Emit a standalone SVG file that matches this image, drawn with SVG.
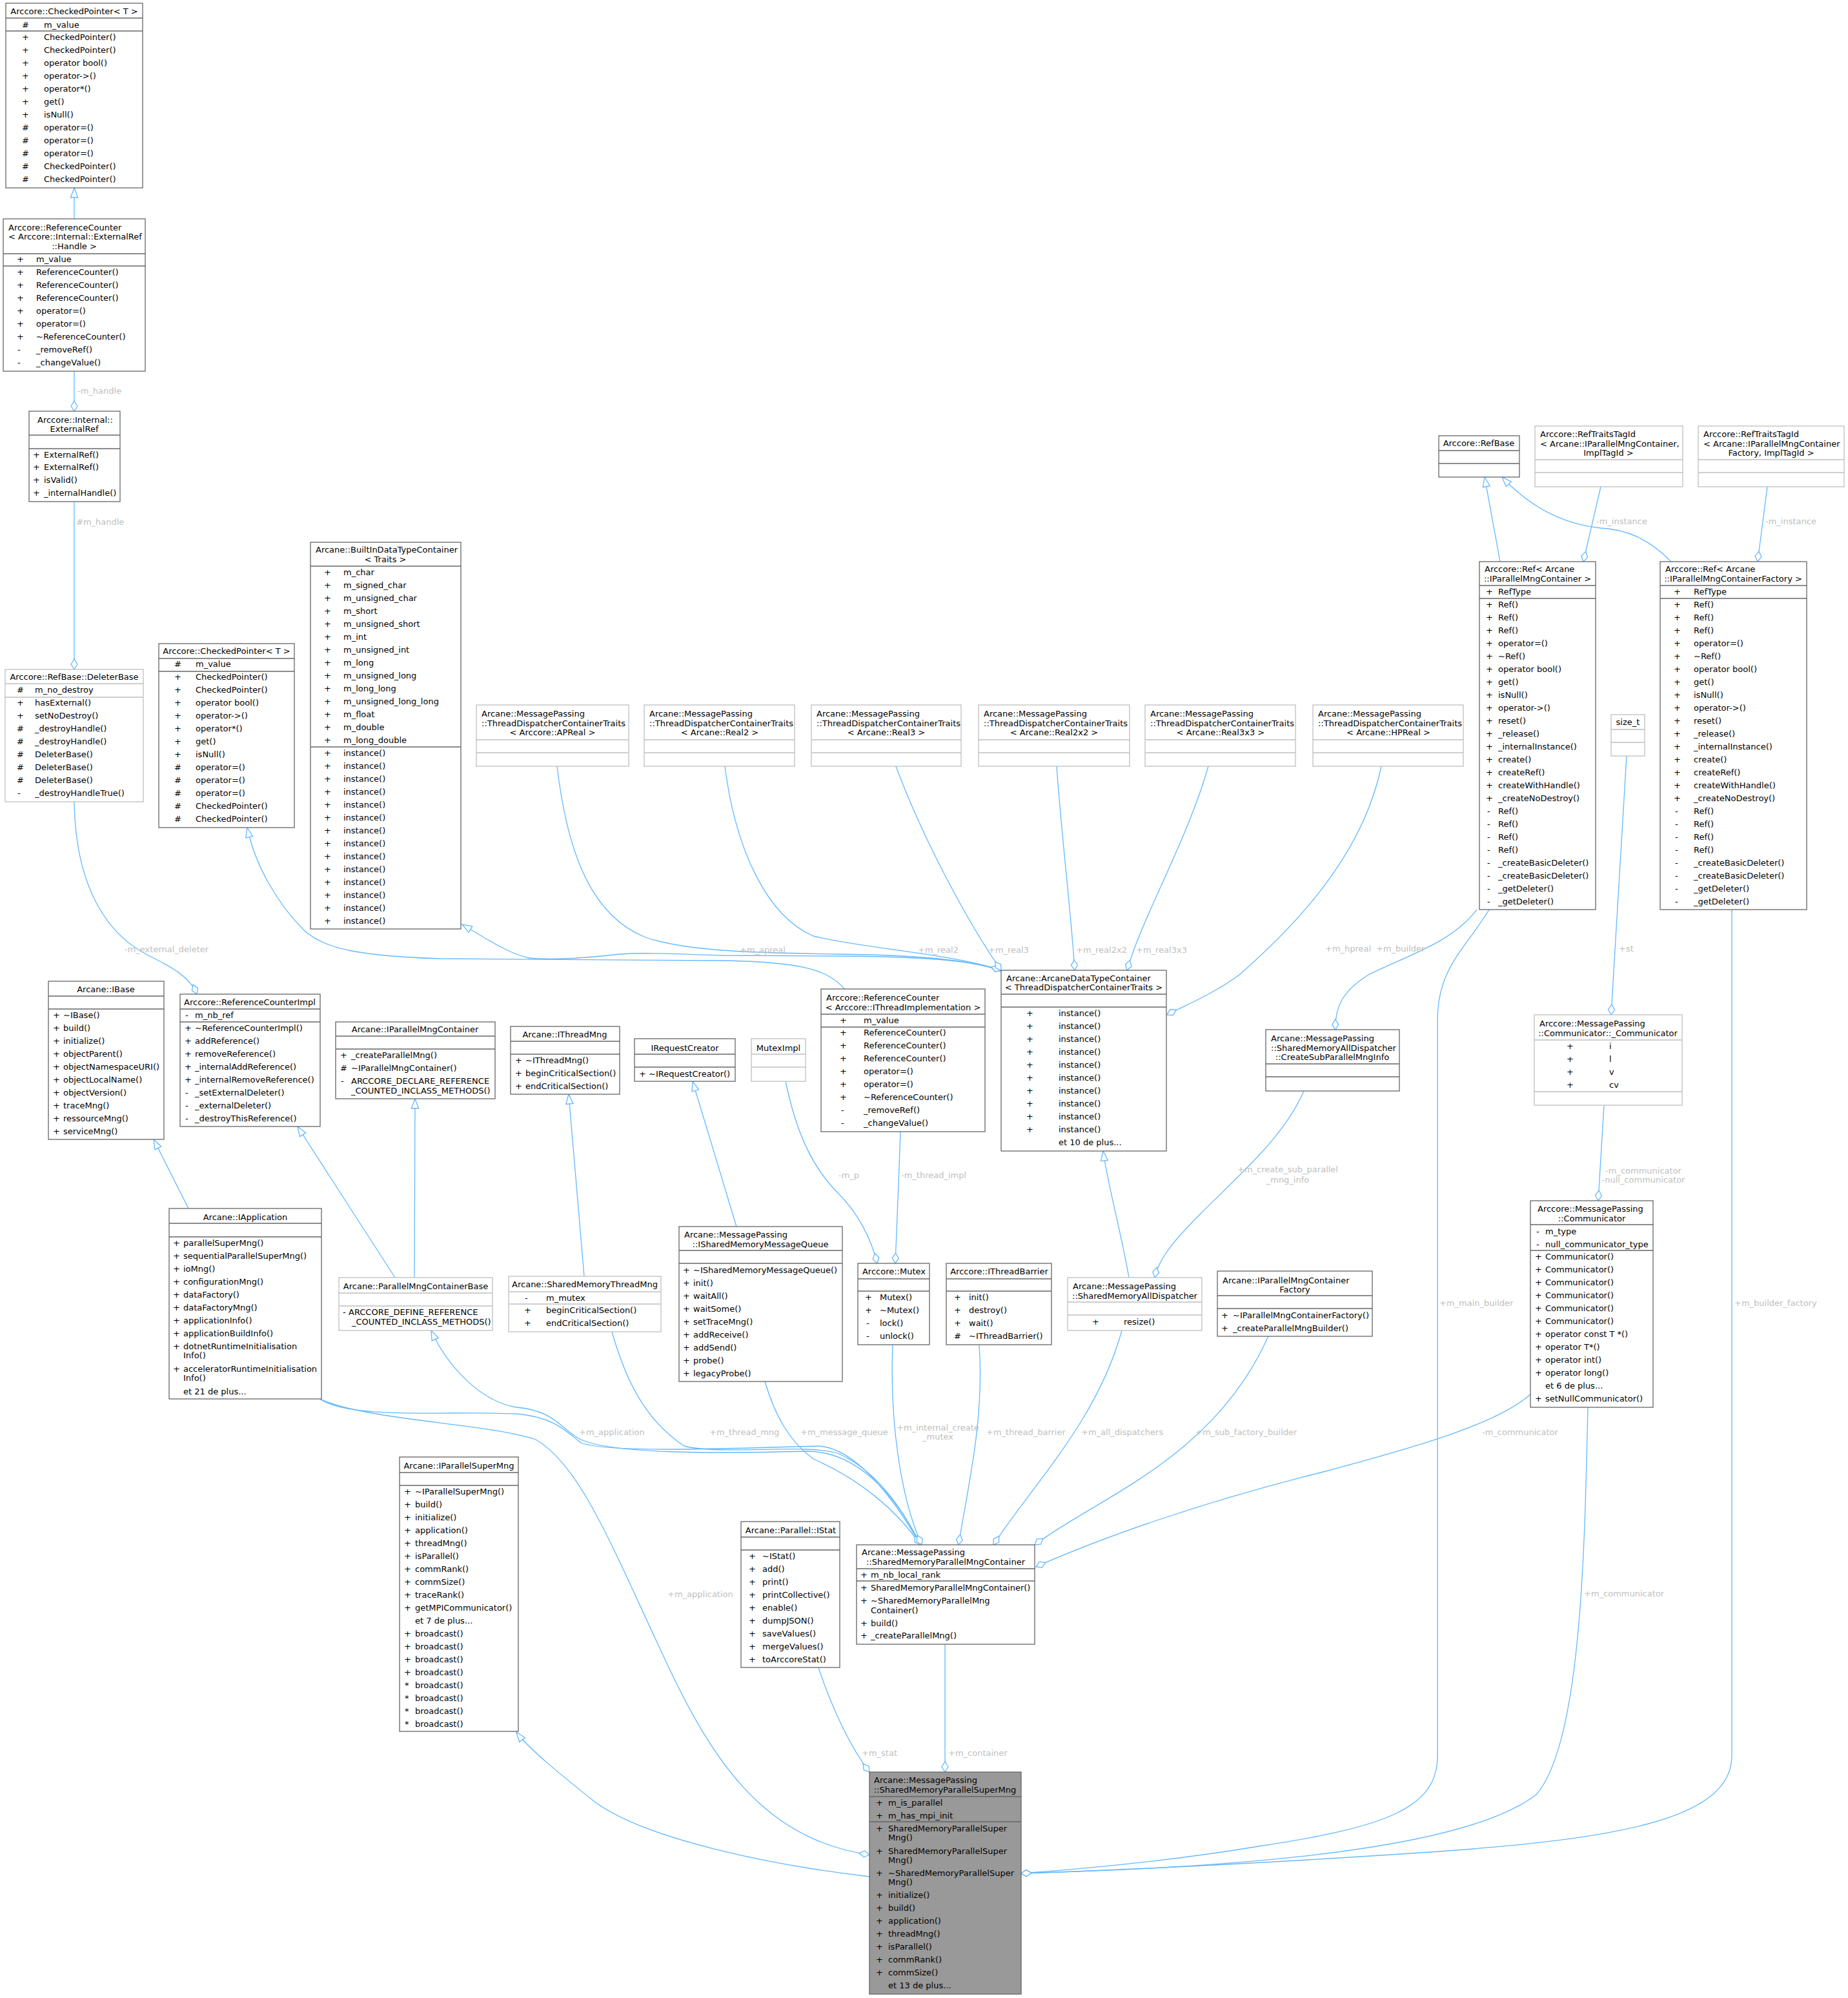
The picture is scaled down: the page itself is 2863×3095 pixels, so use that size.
<svg xmlns="http://www.w3.org/2000/svg" width="2863" height="3095" viewBox="0 0 2863 3095">
<defs>
<style>
text{font-family:"DejaVu Sans","Liberation Sans",sans-serif;font-size:13px;fill:#000}
.c{text-anchor:middle}
.lab{fill:#bebebe}
.b{fill:#fff;stroke:#666;stroke-width:1.3}
.l{fill:#fff;stroke:#bfbfbf;stroke-width:1.3}
.m{fill:#999;stroke:#666;stroke-width:1.3}
.s{stroke:#666;stroke-width:1.3}
.sl{stroke:#bfbfbf;stroke-width:1.3}
.e{fill:none;stroke:#63b8ff;stroke-width:1.3}
.d{marker-end:url(#dia)}
.t{marker-end:url(#tri)}
</style>
<marker id="dia" markerUnits="userSpaceOnUse" markerWidth="20" markerHeight="14" viewBox="-2 -7 20 14" refX="16" refY="0" orient="auto"><path d="M0,0 L8,-5 L16,0 L8,5 Z" fill="#fff" stroke="#63b8ff" stroke-width="1.3"/></marker>
<marker id="tri" markerUnits="userSpaceOnUse" markerWidth="19" markerHeight="16" viewBox="-2 -8 19 16" refX="15" refY="0" orient="auto"><path d="M0,-5.5 L15,0 L0,5.5 Z" fill="#fff" stroke="#63b8ff" stroke-width="1.3"/></marker>
</defs>
<rect width="2863" height="3095" fill="#fff"/>

<g id="connectors">
<path class="e t" d="M115,339 L115,291"/>
<path class="e d" d="M115,575 L115,637"/>
<text class="lab" x="120" y="610">-m_handle</text>
<path class="e d" d="M115,777 L115,1037"/>
<text class="lab" x="118" y="813">#m_handle</text>
<path class="e d" d="M115,1242 C117,1380 170,1450 230,1480 C270,1500 295,1515 305,1540"/>
<text class="lab" x="193" y="1475">-m_external_deleter</text>
<path class="e t" d="M1309,1533 C1285,1502 1240,1490 1120,1488 L680,1485 C560,1481 500,1470 470,1440 C430,1400 395,1340 383,1282"/>
<path class="e t" d="M1551,1505 C1520,1490 1450,1482 1300,1481 L1120,1480 C1050,1478 1000,1475 960,1478 C900,1485 850,1487 820,1484 C790,1478 760,1458 716,1432"/>
<path class="e d" d="M863,1187 C880,1330 920,1420 1000,1452 C1060,1472 1150,1476 1300,1478 C1450,1480 1510,1490 1551,1503"/>
<text class="lab" x="1146" y="1476">+m_apreal</text>
<path class="e d" d="M1123,1187 C1140,1320 1190,1420 1260,1450 C1330,1468 1480,1478 1551,1503"/>
<text class="lab" x="1422" y="1476">+m_real2</text>
<path class="e d" d="M1388,1187 C1430,1300 1500,1430 1551,1503"/>
<text class="lab" x="1531" y="1476">+m_real3</text>
<path class="e d" d="M1637,1187 C1645,1300 1660,1420 1665,1503"/>
<text class="lab" x="1667" y="1476">+m_real2x2</text>
<path class="e d" d="M1872,1187 C1840,1300 1770,1420 1746,1503"/>
<text class="lab" x="1760" y="1476">+m_real3x3</text>
<path class="e d" d="M2140,1187 C2110,1330 2000,1440 1920,1510 C1880,1540 1830,1560 1808,1572"/>
<text class="lab" x="2053" y="1474">+m_hpreal</text>
<path class="e t" d="M2324,870 L2300,739"/>
<path class="e t" d="M2589,870 C2555,835 2520,820 2480,818 C2420,812 2370,785 2327,739"/>
<path class="e d" d="M2480,754 L2453,870"/>
<text class="lab" x="2473" y="812">-m_instance</text>
<path class="e d" d="M2738,754 L2723,870"/>
<text class="lab" x="2735" y="812">-m_instance</text>
<path class="e d" d="M2288,1409 C2250,1460 2180,1480 2120,1510 C2080,1535 2068,1560 2069,1595"/>
<text class="lab" x="2132" y="1474">+m_builder</text>
<path class="e d" d="M2520,1171 L2496,1572"/>
<text class="lab" x="2508" y="1474">+st</text>
<path class="e d" d="M2485,1712 L2476,1860"/>
<text class="lab c" x="2546" y="1818">-m_communicator</text>
<text class="lab c" x="2546" y="1832">-null_communicator</text>
<path class="e d" d="M2020,1690 C1990,1760 1920,1820 1860,1880 C1820,1920 1795,1950 1789,1979"/>
<text class="lab c" x="1995" y="1816">+m_create_sub_parallel</text>
<text class="lab c" x="1995" y="1832">_mng_info</text>
<path class="e t" d="M1749,1979 C1735,1900 1715,1830 1709,1783"/>
<path class="e t" d="M292,1872 L238,1765"/>
<path class="e t" d="M612,1979 L461,1745"/>
<path class="e t" d="M642,1979 L643,1702"/>
<path class="e t" d="M905,1977 L881,1695"/>
<path class="e t" d="M1141,1900 L1073,1675"/>
<path class="e d" d="M1217,1675 C1235,1760 1260,1810 1300,1850 C1330,1880 1350,1920 1359,1957"/>
<text class="lab" x="1299" y="1825">-m_p</text>
<path class="e d" d="M1395,1753 C1393,1820 1389,1900 1387,1957"/>
<text class="lab" x="1396" y="1825">-m_thread_impl</text>
<path class="e d" d="M494,2166 C540,2200 700,2185 800,2190 C860,2195 880,2220 900,2235 C940,2250 1100,2245 1270,2240 C1330,2245 1390,2330 1426,2393"/>
<text class="lab" x="897" y="2223">+m_application</text>
<path class="e t" d="M1426,2393 C1390,2320 1330,2248 1250,2248 C1100,2252 950,2252 900,2230 C870,2215 860,2185 800,2180 C740,2170 690,2110 668,2061"/>
<path class="e d" d="M948,2063 C970,2140 1000,2200 1060,2240 C1120,2255 1250,2235 1300,2252 C1360,2280 1400,2340 1426,2393"/>
<text class="lab" x="1099" y="2223">+m_thread_mng</text>
<path class="e d" d="M1185,2140 C1200,2190 1220,2230 1260,2260 C1330,2290 1390,2340 1426,2393"/>
<text class="lab" x="1240" y="2223">+m_message_queue</text>
<path class="e d" d="M1383,2083 C1378,2200 1395,2320 1428,2393"/>
<text class="lab c" x="1453" y="2216">+m_internal_create</text>
<text class="lab c" x="1453" y="2230">_mutex</text>
<path class="e d" d="M1517,2083 C1525,2200 1500,2300 1485,2393"/>
<text class="lab" x="1528" y="2223">+m_thread_barrier</text>
<path class="e d" d="M1738,2061 C1700,2200 1600,2300 1539,2393"/>
<text class="lab" x="1675" y="2223">+m_all_dispatchers</text>
<path class="e d" d="M1965,2070 C1880,2260 1700,2320 1603,2393"/>
<text class="lab" x="1852" y="2223">+m_sub_factory_builder</text>
<path class="e d" d="M2371,2160 C2320,2205 2200,2240 2050,2280 C1850,2330 1700,2385 1605,2427"/>
<text class="lab" x="2296" y="2223">-m_communicator</text>
<path class="e d" d="M494,2166 C560,2200 760,2205 830,2230 C900,2270 950,2400 1030,2570 C1100,2720 1180,2850 1347,2873"/>
<text class="lab" x="1034" y="2474">+m_application</text>
<path class="e t" d="M1347,2907 C1200,2890 1000,2850 920,2790 C870,2750 820,2710 800,2683"/>
<path class="e d" d="M1268,2583 C1290,2650 1320,2710 1347,2745"/>
<text class="lab" x="1335" y="2720">+m_stat</text>
<path class="e d" d="M1464,2547 L1464,2745"/>
<text class="lab" x="1469" y="2720">+m_container</text>
<path class="e d" d="M2307,1409 C2270,1470 2227,1500 2227,1580 L2227,2720 C2227,2800 2150,2830 1950,2860 C1800,2885 1650,2897 1582,2902"/>
<text class="lab" x="2230" y="2023">+m_main_builder</text>
<path class="e d" d="M2683,1409 L2683,2720 C2683,2820 2500,2850 2200,2870 C1900,2890 1700,2898 1582,2902"/>
<text class="lab" x="2687" y="2023">+m_builder_factory</text>
<path class="e d" d="M2460,2180 C2455,2400 2450,2700 2380,2780 C2250,2880 1800,2895 1582,2902"/>
<text class="lab" x="2454" y="2473">+m_communicator</text>
</g>

<g id="n_checkedpointer1">
<rect class="b" x="9" y="5" width="212" height="286"/>
<line class="s" x1="9" y1="28" x2="221" y2="28"/><line class="s" x1="9" y1="48" x2="221" y2="48"/>
<text class="c" x="115" y="22">Arccore::CheckedPointer&lt; T &gt;</text>
<text y="43"><tspan x="34">#</tspan><tspan x="68">m_value</tspan></text>
<text y="62"><tspan x="34">+</tspan><tspan x="68">CheckedPointer()</tspan></text>
<text y="82"><tspan x="34">+</tspan><tspan x="68">CheckedPointer()</tspan></text>
<text y="102"><tspan x="34">+</tspan><tspan x="68">operator bool()</tspan></text>
<text y="122"><tspan x="34">+</tspan><tspan x="68">operator-&gt;()</tspan></text>
<text y="142"><tspan x="34">+</tspan><tspan x="68">operator*()</tspan></text>
<text y="162"><tspan x="34">+</tspan><tspan x="68">get()</tspan></text>
<text y="182"><tspan x="34">+</tspan><tspan x="68">isNull()</tspan></text>
<text y="202"><tspan x="34">#</tspan><tspan x="68">operator=()</tspan></text>
<text y="222"><tspan x="34">#</tspan><tspan x="68">operator=()</tspan></text>
<text y="242"><tspan x="34">#</tspan><tspan x="68">operator=()</tspan></text>
<text y="262"><tspan x="34">#</tspan><tspan x="68">CheckedPointer()</tspan></text>
<text y="282"><tspan x="34">#</tspan><tspan x="68">CheckedPointer()</tspan></text>
</g>

<g id="n_refcounter_handle">
<rect class="b" x="5" y="339" width="220" height="236"/>
<line class="s" x1="5" y1="393" x2="225" y2="393"/><line class="s" x1="5" y1="412" x2="225" y2="412"/>
<text x="13" y="357">Arccore::ReferenceCounter</text>
<text x="13" y="371">&lt; Arccore::Internal::ExternalRef</text>
<text class="c" x="115" y="386">::Handle &gt;</text>
<text y="406"><tspan x="26">+</tspan><tspan x="56">m_value</tspan></text>
<text y="426"><tspan x="26">+</tspan><tspan x="56">ReferenceCounter()</tspan></text>
<text y="446"><tspan x="26">+</tspan><tspan x="56">ReferenceCounter()</tspan></text>
<text y="466"><tspan x="26">+</tspan><tspan x="56">ReferenceCounter()</tspan></text>
<text y="486"><tspan x="26">+</tspan><tspan x="56">operator=()</tspan></text>
<text y="506"><tspan x="26">+</tspan><tspan x="56">operator=()</tspan></text>
<text y="526"><tspan x="26">+</tspan><tspan x="56">~ReferenceCounter()</tspan></text>
<text y="546"><tspan x="27">-</tspan><tspan x="56">_removeRef()</tspan></text>
<text y="566"><tspan x="27">-</tspan><tspan x="56">_changeValue()</tspan></text>
</g>

<g id="n_externalref">
<rect class="b" x="45" y="637" width="141" height="140"/>
<line class="s" x1="45" y1="674" x2="186" y2="674"/><line class="s" x1="45" y1="695" x2="186" y2="695"/>
<text x="58" y="655">Arccore::Internal::</text>
<text class="c" x="115" y="669">ExternalRef</text>
<text y="709"><tspan x="51">+</tspan><tspan x="68">ExternalRef()</tspan></text>
<text y="728"><tspan x="51">+</tspan><tspan x="68">ExternalRef()</tspan></text>
<text y="748"><tspan x="51">+</tspan><tspan x="68">isValid()</tspan></text>
<text y="768"><tspan x="51">+</tspan><tspan x="68">_internalHandle()</tspan></text>
</g>

<g id="n_deleterbase">
<rect class="l" x="8" y="1037" width="214" height="205"/>
<line class="sl" x1="8" y1="1059" x2="222" y2="1059"/><line class="sl" x1="8" y1="1080" x2="222" y2="1080"/>
<text class="c" x="115" y="1053">Arccore::RefBase::DeleterBase</text>
<text y="1073"><tspan x="26">#</tspan><tspan x="54">m_no_destroy</tspan></text>
<text y="1093"><tspan x="26">+</tspan><tspan x="54">hasExternal()</tspan></text>
<text y="1113"><tspan x="26">+</tspan><tspan x="54">setNoDestroy()</tspan></text>
<text y="1133"><tspan x="26">#</tspan><tspan x="54">_destroyHandle()</tspan></text>
<text y="1153"><tspan x="26">#</tspan><tspan x="54">_destroyHandle()</tspan></text>
<text y="1173"><tspan x="26">#</tspan><tspan x="54">DeleterBase()</tspan></text>
<text y="1193"><tspan x="26">#</tspan><tspan x="54">DeleterBase()</tspan></text>
<text y="1213"><tspan x="26">#</tspan><tspan x="54">DeleterBase()</tspan></text>
<text y="1233"><tspan x="27">-</tspan><tspan x="54">_destroyHandleTrue()</tspan></text>
</g>

<g id="n_checkedpointer2">
<rect class="b" x="246" y="997" width="210" height="285"/>
<line class="s" x1="246" y1="1020" x2="456" y2="1020"/><line class="s" x1="246" y1="1040" x2="456" y2="1040"/>
<text class="c" x="351" y="1013">Arccore::CheckedPointer&lt; T &gt;</text>
<text y="1033"><tspan x="270">#</tspan><tspan x="303">m_value</tspan></text>
<text y="1053"><tspan x="270">+</tspan><tspan x="303">CheckedPointer()</tspan></text>
<text y="1073"><tspan x="270">+</tspan><tspan x="303">CheckedPointer()</tspan></text>
<text y="1093"><tspan x="270">+</tspan><tspan x="303">operator bool()</tspan></text>
<text y="1113"><tspan x="270">+</tspan><tspan x="303">operator-&gt;()</tspan></text>
<text y="1133"><tspan x="270">+</tspan><tspan x="303">operator*()</tspan></text>
<text y="1153"><tspan x="270">+</tspan><tspan x="303">get()</tspan></text>
<text y="1173"><tspan x="270">+</tspan><tspan x="303">isNull()</tspan></text>
<text y="1193"><tspan x="270">#</tspan><tspan x="303">operator=()</tspan></text>
<text y="1213"><tspan x="270">#</tspan><tspan x="303">operator=()</tspan></text>
<text y="1233"><tspan x="270">#</tspan><tspan x="303">operator=()</tspan></text>
<text y="1253"><tspan x="270">#</tspan><tspan x="303">CheckedPointer()</tspan></text>
<text y="1273"><tspan x="270">#</tspan><tspan x="303">CheckedPointer()</tspan></text>
</g>

<g id="n_builtin">
<rect class="b" x="481" y="840" width="233" height="599"/>
<line class="s" x1="481" y1="877" x2="714" y2="877"/><line class="s" x1="481" y1="1157" x2="714" y2="1157"/>
<text x="489" y="856">Arcane::BuiltInDataTypeContainer</text>
<text class="c" x="597" y="871">&lt; Traits &gt;</text>
<text y="891"><tspan x="502">+</tspan><tspan x="532">m_char</tspan></text>
<text y="911"><tspan x="502">+</tspan><tspan x="532">m_signed_char</tspan></text>
<text y="931"><tspan x="502">+</tspan><tspan x="532">m_unsigned_char</tspan></text>
<text y="951"><tspan x="502">+</tspan><tspan x="532">m_short</tspan></text>
<text y="971"><tspan x="502">+</tspan><tspan x="532">m_unsigned_short</tspan></text>
<text y="991"><tspan x="502">+</tspan><tspan x="532">m_int</tspan></text>
<text y="1011"><tspan x="502">+</tspan><tspan x="532">m_unsigned_int</tspan></text>
<text y="1031"><tspan x="502">+</tspan><tspan x="532">m_long</tspan></text>
<text y="1051"><tspan x="502">+</tspan><tspan x="532">m_unsigned_long</tspan></text>
<text y="1071"><tspan x="502">+</tspan><tspan x="532">m_long_long</tspan></text>
<text y="1091"><tspan x="502">+</tspan><tspan x="532">m_unsigned_long_long</tspan></text>
<text y="1111"><tspan x="502">+</tspan><tspan x="532">m_float</tspan></text>
<text y="1131"><tspan x="502">+</tspan><tspan x="532">m_double</tspan></text>
<text y="1151"><tspan x="502">+</tspan><tspan x="532">m_long_double</tspan></text>
<text y="1171"><tspan x="502">+</tspan><tspan x="532">instance()</tspan></text>
<text y="1191"><tspan x="502">+</tspan><tspan x="532">instance()</tspan></text>
<text y="1211"><tspan x="502">+</tspan><tspan x="532">instance()</tspan></text>
<text y="1231"><tspan x="502">+</tspan><tspan x="532">instance()</tspan></text>
<text y="1251"><tspan x="502">+</tspan><tspan x="532">instance()</tspan></text>
<text y="1271"><tspan x="502">+</tspan><tspan x="532">instance()</tspan></text>
<text y="1291"><tspan x="502">+</tspan><tspan x="532">instance()</tspan></text>
<text y="1311"><tspan x="502">+</tspan><tspan x="532">instance()</tspan></text>
<text y="1331"><tspan x="502">+</tspan><tspan x="532">instance()</tspan></text>
<text y="1351"><tspan x="502">+</tspan><tspan x="532">instance()</tspan></text>
<text y="1371"><tspan x="502">+</tspan><tspan x="532">instance()</tspan></text>
<text y="1391"><tspan x="502">+</tspan><tspan x="532">instance()</tspan></text>
<text y="1411"><tspan x="502">+</tspan><tspan x="532">instance()</tspan></text>
<text y="1431"><tspan x="502">+</tspan><tspan x="532">instance()</tspan></text>
</g>

<g id="n_td_apreal">
<rect class="l" x="738" y="1092" width="236" height="95"/>
<line class="sl" x1="738" y1="1146" x2="974" y2="1146"/><line class="sl" x1="738" y1="1166" x2="974" y2="1166"/>
<text x="746" y="1110">Arcane::MessagePassing</text>
<text x="746" y="1125">::ThreadDispatcherContainerTraits</text>
<text class="c" x="856" y="1139">&lt; Arccore::APReal &gt;</text>
</g>
<g id="n_td_real2">
<rect class="l" x="998" y="1092" width="233" height="95"/>
<line class="sl" x1="998" y1="1146" x2="1231" y2="1146"/><line class="sl" x1="998" y1="1166" x2="1231" y2="1166"/>
<text x="1006" y="1110">Arcane::MessagePassing</text>
<text x="1006" y="1125">::ThreadDispatcherContainerTraits</text>
<text class="c" x="1115" y="1139">&lt; Arcane::Real2 &gt;</text>
</g>
<g id="n_td_real3">
<rect class="l" x="1257" y="1092" width="232" height="95"/>
<line class="sl" x1="1257" y1="1146" x2="1489" y2="1146"/><line class="sl" x1="1257" y1="1166" x2="1489" y2="1166"/>
<text x="1265" y="1110">Arcane::MessagePassing</text>
<text x="1265" y="1125">::ThreadDispatcherContainerTraits</text>
<text class="c" x="1373" y="1139">&lt; Arcane::Real3 &gt;</text>
</g>
<g id="n_td_real2x2">
<rect class="l" x="1516" y="1092" width="234" height="95"/>
<line class="sl" x1="1516" y1="1146" x2="1750" y2="1146"/><line class="sl" x1="1516" y1="1166" x2="1750" y2="1166"/>
<text x="1524" y="1110">Arcane::MessagePassing</text>
<text x="1524" y="1125">::ThreadDispatcherContainerTraits</text>
<text class="c" x="1633" y="1139">&lt; Arcane::Real2x2 &gt;</text>
</g>
<g id="n_td_real3x3">
<rect class="l" x="1774" y="1092" width="233" height="95"/>
<line class="sl" x1="1774" y1="1146" x2="2007" y2="1146"/><line class="sl" x1="1774" y1="1166" x2="2007" y2="1166"/>
<text x="1782" y="1110">Arcane::MessagePassing</text>
<text x="1782" y="1125">::ThreadDispatcherContainerTraits</text>
<text class="c" x="1891" y="1139">&lt; Arcane::Real3x3 &gt;</text>
</g>
<g id="n_td_hpreal">
<rect class="l" x="2034" y="1092" width="233" height="95"/>
<line class="sl" x1="2034" y1="1146" x2="2267" y2="1146"/><line class="sl" x1="2034" y1="1166" x2="2267" y2="1166"/>
<text x="2042" y="1110">Arcane::MessagePassing</text>
<text x="2042" y="1125">::ThreadDispatcherContainerTraits</text>
<text class="c" x="2151" y="1139">&lt; Arcane::HPReal &gt;</text>
</g>

<g id="n_refbase">
<rect class="b" x="2229" y="675" width="125" height="64"/>
<line class="s" x1="2229" y1="698" x2="2354" y2="698"/><line class="s" x1="2229" y1="718" x2="2354" y2="718"/>
<text class="c" x="2291" y="691">Arccore::RefBase</text>
</g>
<g id="n_reftraits1">
<rect class="l" x="2378" y="660" width="229" height="94"/>
<line class="sl" x1="2378" y1="712" x2="2607" y2="712"/><line class="sl" x1="2378" y1="732" x2="2607" y2="732"/>
<text x="2386" y="677">Arccore::RefTraitsTagId</text>
<text x="2386" y="692">&lt; Arcane::IParallelMngContainer,</text>
<text class="c" x="2492" y="706">ImplTagId &gt;</text>
</g>
<g id="n_reftraits2">
<rect class="l" x="2631" y="660" width="226" height="94"/>
<line class="sl" x1="2631" y1="712" x2="2857" y2="712"/><line class="sl" x1="2631" y1="732" x2="2857" y2="732"/>
<text x="2639" y="677">Arccore::RefTraitsTagId</text>
<text x="2639" y="692">&lt; Arcane::IParallelMngContainer</text>
<text class="c" x="2744" y="706">Factory, ImplTagId &gt;</text>
</g>

<g id="n_ref_ipmc">
<rect class="b" x="2292" y="870" width="180" height="539"/>
<line class="s" x1="2292" y1="907" x2="2472" y2="907"/><line class="s" x1="2292" y1="927" x2="2472" y2="927"/>
<text x="2300" y="886">Arccore::Ref&lt; Arcane</text>
<text class="c" x="2382" y="901">::IParallelMngContainer &gt;</text>
<text y="921"><tspan x="2302">+</tspan><tspan x="2321">RefType</tspan></text>
<text y="941"><tspan x="2302">+</tspan><tspan x="2321">Ref()</tspan></text>
<text y="961"><tspan x="2302">+</tspan><tspan x="2321">Ref()</tspan></text>
<text y="981"><tspan x="2302">+</tspan><tspan x="2321">Ref()</tspan></text>
<text y="1001"><tspan x="2302">+</tspan><tspan x="2321">operator=()</tspan></text>
<text y="1021"><tspan x="2302">+</tspan><tspan x="2321">~Ref()</tspan></text>
<text y="1041"><tspan x="2302">+</tspan><tspan x="2321">operator bool()</tspan></text>
<text y="1061"><tspan x="2302">+</tspan><tspan x="2321">get()</tspan></text>
<text y="1081"><tspan x="2302">+</tspan><tspan x="2321">isNull()</tspan></text>
<text y="1101"><tspan x="2302">+</tspan><tspan x="2321">operator-&gt;()</tspan></text>
<text y="1121"><tspan x="2302">+</tspan><tspan x="2321">reset()</tspan></text>
<text y="1141"><tspan x="2302">+</tspan><tspan x="2321">_release()</tspan></text>
<text y="1161"><tspan x="2302">+</tspan><tspan x="2321">_internalInstance()</tspan></text>
<text y="1181"><tspan x="2302">+</tspan><tspan x="2321">create()</tspan></text>
<text y="1201"><tspan x="2302">+</tspan><tspan x="2321">createRef()</tspan></text>
<text y="1221"><tspan x="2302">+</tspan><tspan x="2321">createWithHandle()</tspan></text>
<text y="1241"><tspan x="2302">+</tspan><tspan x="2321">_createNoDestroy()</tspan></text>
<text y="1261"><tspan x="2304">-</tspan><tspan x="2321">Ref()</tspan></text>
<text y="1281"><tspan x="2304">-</tspan><tspan x="2321">Ref()</tspan></text>
<text y="1301"><tspan x="2304">-</tspan><tspan x="2321">Ref()</tspan></text>
<text y="1321"><tspan x="2304">-</tspan><tspan x="2321">Ref()</tspan></text>
<text y="1341"><tspan x="2304">-</tspan><tspan x="2321">_createBasicDeleter()</tspan></text>
<text y="1361"><tspan x="2304">-</tspan><tspan x="2321">_createBasicDeleter()</tspan></text>
<text y="1381"><tspan x="2304">-</tspan><tspan x="2321">_getDeleter()</tspan></text>
<text y="1401"><tspan x="2304">-</tspan><tspan x="2321">_getDeleter()</tspan></text>
</g>

<g id="n_ref_ipmcf">
<rect class="b" x="2572" y="870" width="227" height="539"/>
<line class="s" x1="2572" y1="907" x2="2799" y2="907"/><line class="s" x1="2572" y1="927" x2="2799" y2="927"/>
<text x="2580" y="886">Arccore::Ref&lt; Arcane</text>
<text class="c" x="2685" y="901">::IParallelMngContainerFactory &gt;</text>
<text y="921"><tspan x="2593">+</tspan><tspan x="2624">RefType</tspan></text>
<text y="941"><tspan x="2593">+</tspan><tspan x="2624">Ref()</tspan></text>
<text y="961"><tspan x="2593">+</tspan><tspan x="2624">Ref()</tspan></text>
<text y="981"><tspan x="2593">+</tspan><tspan x="2624">Ref()</tspan></text>
<text y="1001"><tspan x="2593">+</tspan><tspan x="2624">operator=()</tspan></text>
<text y="1021"><tspan x="2593">+</tspan><tspan x="2624">~Ref()</tspan></text>
<text y="1041"><tspan x="2593">+</tspan><tspan x="2624">operator bool()</tspan></text>
<text y="1061"><tspan x="2593">+</tspan><tspan x="2624">get()</tspan></text>
<text y="1081"><tspan x="2593">+</tspan><tspan x="2624">isNull()</tspan></text>
<text y="1101"><tspan x="2593">+</tspan><tspan x="2624">operator-&gt;()</tspan></text>
<text y="1121"><tspan x="2593">+</tspan><tspan x="2624">reset()</tspan></text>
<text y="1141"><tspan x="2593">+</tspan><tspan x="2624">_release()</tspan></text>
<text y="1161"><tspan x="2593">+</tspan><tspan x="2624">_internalInstance()</tspan></text>
<text y="1181"><tspan x="2593">+</tspan><tspan x="2624">create()</tspan></text>
<text y="1201"><tspan x="2593">+</tspan><tspan x="2624">createRef()</tspan></text>
<text y="1221"><tspan x="2593">+</tspan><tspan x="2624">createWithHandle()</tspan></text>
<text y="1241"><tspan x="2593">+</tspan><tspan x="2624">_createNoDestroy()</tspan></text>
<text y="1261"><tspan x="2595">-</tspan><tspan x="2624">Ref()</tspan></text>
<text y="1281"><tspan x="2595">-</tspan><tspan x="2624">Ref()</tspan></text>
<text y="1301"><tspan x="2595">-</tspan><tspan x="2624">Ref()</tspan></text>
<text y="1321"><tspan x="2595">-</tspan><tspan x="2624">Ref()</tspan></text>
<text y="1341"><tspan x="2595">-</tspan><tspan x="2624">_createBasicDeleter()</tspan></text>
<text y="1361"><tspan x="2595">-</tspan><tspan x="2624">_createBasicDeleter()</tspan></text>
<text y="1381"><tspan x="2595">-</tspan><tspan x="2624">_getDeleter()</tspan></text>
<text y="1401"><tspan x="2595">-</tspan><tspan x="2624">_getDeleter()</tspan></text>
</g>

<g id="n_size_t">
<rect class="l" x="2496" y="1107" width="52" height="64"/>
<line class="sl" x1="2496" y1="1130" x2="2548" y2="1130"/><line class="sl" x1="2496" y1="1150" x2="2548" y2="1150"/>
<text class="c" x="2522" y="1123">size_t</text>
</g>

<g id="n_ibase">
<rect class="b" x="75" y="1520" width="179" height="245"/>
<line class="s" x1="75" y1="1543" x2="254" y2="1543"/><line class="s" x1="75" y1="1563" x2="254" y2="1563"/>
<text class="c" x="164" y="1537">Arcane::IBase</text>
<text y="1577"><tspan x="82">+</tspan><tspan x="98">~IBase()</tspan></text>
<text y="1597"><tspan x="82">+</tspan><tspan x="98">build()</tspan></text>
<text y="1617"><tspan x="82">+</tspan><tspan x="98">initialize()</tspan></text>
<text y="1637"><tspan x="82">+</tspan><tspan x="98">objectParent()</tspan></text>
<text y="1657"><tspan x="82">+</tspan><tspan x="98">objectNamespaceURI()</tspan></text>
<text y="1677"><tspan x="82">+</tspan><tspan x="98">objectLocalName()</tspan></text>
<text y="1697"><tspan x="82">+</tspan><tspan x="98">objectVersion()</tspan></text>
<text y="1717"><tspan x="82">+</tspan><tspan x="98">traceMng()</tspan></text>
<text y="1737"><tspan x="82">+</tspan><tspan x="98">ressourceMng()</tspan></text>
<text y="1757"><tspan x="82">+</tspan><tspan x="98">serviceMng()</tspan></text>
</g>

<g id="n_refcounterimpl">
<rect class="b" x="279" y="1540" width="217" height="205"/>
<line class="s" x1="279" y1="1563" x2="496" y2="1563"/><line class="s" x1="279" y1="1583" x2="496" y2="1583"/>
<text class="c" x="387" y="1557">Arccore::ReferenceCounterImpl</text>
<text y="1577"><tspan x="287">-</tspan><tspan x="302">m_nb_ref</tspan></text>
<text y="1597"><tspan x="286">+</tspan><tspan x="302">~ReferenceCounterImpl()</tspan></text>
<text y="1617"><tspan x="286">+</tspan><tspan x="302">addReference()</tspan></text>
<text y="1637"><tspan x="286">+</tspan><tspan x="302">removeReference()</tspan></text>
<text y="1657"><tspan x="286">+</tspan><tspan x="302">_internalAddReference()</tspan></text>
<text y="1677"><tspan x="286">+</tspan><tspan x="302">_internalRemoveReference()</tspan></text>
<text y="1697"><tspan x="287">-</tspan><tspan x="302">_setExternalDeleter()</tspan></text>
<text y="1717"><tspan x="287">-</tspan><tspan x="302">_externalDeleter()</tspan></text>
<text y="1737"><tspan x="287">-</tspan><tspan x="302">_destroyThisReference()</tspan></text>
</g>

<g id="n_iparallelmngcontainer">
<rect class="b" x="520" y="1583" width="247" height="119"/>
<line class="s" x1="520" y1="1605" x2="767" y2="1605"/><line class="s" x1="520" y1="1625" x2="767" y2="1625"/>
<text class="c" x="643" y="1599">Arcane::IParallelMngContainer</text>
<text y="1639"><tspan x="527">+</tspan><tspan x="544">_createParallelMng()</tspan></text>
<text y="1659"><tspan x="527">#</tspan><tspan x="544">~IParallelMngContainer()</tspan></text>
<text y="1679"><tspan x="528">-</tspan><tspan x="544">ARCCORE_DECLARE_REFERENCE</tspan></text>
<text x="544" y="1694">_COUNTED_INCLASS_METHODS()</text>
</g>

<g id="n_ithreadmng">
<rect class="b" x="791" y="1590" width="169" height="105"/>
<line class="s" x1="791" y1="1613" x2="960" y2="1613"/><line class="s" x1="791" y1="1633" x2="960" y2="1633"/>
<text class="c" x="875" y="1607">Arcane::IThreadMng</text>
<text y="1647"><tspan x="798">+</tspan><tspan x="814">~IThreadMng()</tspan></text>
<text y="1667"><tspan x="798">+</tspan><tspan x="814">beginCriticalSection()</tspan></text>
<text y="1687"><tspan x="798">+</tspan><tspan x="814">endCriticalSection()</tspan></text>
</g>

<g id="n_irequestcreator">
<rect class="b" x="983" y="1609" width="156" height="66"/>
<line class="s" x1="983" y1="1633" x2="1139" y2="1633"/><line class="s" x1="983" y1="1653" x2="1139" y2="1653"/>
<text class="c" x="1061" y="1628">IRequestCreator</text>
<text y="1668"><tspan x="990">+</tspan><tspan x="1005">~IRequestCreator()</tspan></text>
</g>

<g id="n_muteximpl">
<rect class="l" x="1164" y="1609" width="84" height="66"/>
<line class="sl" x1="1164" y1="1633" x2="1248" y2="1633"/><line class="sl" x1="1164" y1="1653" x2="1248" y2="1653"/>
<text class="c" x="1206" y="1628">MutexImpl</text>
</g>

<g id="n_refcounter_thread">
<rect class="b" x="1272" y="1532" width="254" height="221"/>
<line class="s" x1="1272" y1="1571" x2="1526" y2="1571"/><line class="s" x1="1272" y1="1591" x2="1526" y2="1591"/>
<text x="1280" y="1550">Arccore::ReferenceCounter</text>
<text class="c" x="1399" y="1565">&lt; Arccore::IThreadImplementation &gt;</text>
<text y="1585"><tspan x="1301">+</tspan><tspan x="1338">m_value</tspan></text>
<text y="1604"><tspan x="1301">+</tspan><tspan x="1338">ReferenceCounter()</tspan></text>
<text y="1624"><tspan x="1301">+</tspan><tspan x="1338">ReferenceCounter()</tspan></text>
<text y="1644"><tspan x="1301">+</tspan><tspan x="1338">ReferenceCounter()</tspan></text>
<text y="1664"><tspan x="1301">+</tspan><tspan x="1338">operator=()</tspan></text>
<text y="1684"><tspan x="1301">+</tspan><tspan x="1338">operator=()</tspan></text>
<text y="1704"><tspan x="1301">+</tspan><tspan x="1338">~ReferenceCounter()</tspan></text>
<text y="1724"><tspan x="1303">-</tspan><tspan x="1338">_removeRef()</tspan></text>
<text y="1744"><tspan x="1303">-</tspan><tspan x="1338">_changeValue()</tspan></text>
</g>

<g id="n_arcanedatatypecontainer">
<rect class="b" x="1551" y="1503" width="256" height="280"/>
<line class="s" x1="1551" y1="1540" x2="1807" y2="1540"/><line class="s" x1="1551" y1="1560" x2="1807" y2="1560"/>
<text x="1559" y="1520">Arcane::ArcaneDataTypeContainer</text>
<text class="c" x="1679" y="1534">&lt; ThreadDispatcherContainerTraits &gt;</text>
<text y="1574"><tspan x="1590">+</tspan><tspan x="1640">instance()</tspan></text>
<text y="1594"><tspan x="1590">+</tspan><tspan x="1640">instance()</tspan></text>
<text y="1614"><tspan x="1590">+</tspan><tspan x="1640">instance()</tspan></text>
<text y="1634"><tspan x="1590">+</tspan><tspan x="1640">instance()</tspan></text>
<text y="1654"><tspan x="1590">+</tspan><tspan x="1640">instance()</tspan></text>
<text y="1674"><tspan x="1590">+</tspan><tspan x="1640">instance()</tspan></text>
<text y="1694"><tspan x="1590">+</tspan><tspan x="1640">instance()</tspan></text>
<text y="1714"><tspan x="1590">+</tspan><tspan x="1640">instance()</tspan></text>
<text y="1734"><tspan x="1590">+</tspan><tspan x="1640">instance()</tspan></text>
<text y="1754"><tspan x="1590">+</tspan><tspan x="1640">instance()</tspan></text>
<text x="1640" y="1774">et 10 de plus...</text>
</g>

<g id="n_createsubparallelmnginfo">
<rect class="b" x="1961" y="1595" width="207" height="95"/>
<line class="s" x1="1961" y1="1648" x2="2168" y2="1648"/><line class="s" x1="1961" y1="1668" x2="2168" y2="1668"/>
<text x="1969" y="1613">Arcane::MessagePassing</text>
<text x="1969" y="1628">::SharedMemoryAllDispatcher</text>
<text class="c" x="2064" y="1642">::CreateSubParallelMngInfo</text>
</g>

<g id="n_communicator_inner">
<rect class="l" x="2377" y="1572" width="229" height="140"/>
<line class="sl" x1="2377" y1="1611" x2="2606" y2="1611"/><line class="sl" x1="2377" y1="1691" x2="2606" y2="1691"/>
<text x="2385" y="1590">Arccore::MessagePassing</text>
<text class="c" x="2491" y="1605">::Communicator::_Communicator</text>
<text y="1625"><tspan x="2427">+</tspan><tspan x="2493">i</tspan></text>
<text y="1645"><tspan x="2427">+</tspan><tspan x="2493">l</tspan></text>
<text y="1665"><tspan x="2427">+</tspan><tspan x="2493">v</tspan></text>
<text y="1685"><tspan x="2427">+</tspan><tspan x="2493">cv</tspan></text>
</g>

<g id="n_iapplication">
<rect class="b" x="262" y="1872" width="236" height="295"/>
<line class="s" x1="262" y1="1895" x2="498" y2="1895"/><line class="s" x1="262" y1="1916" x2="498" y2="1916"/>
<text class="c" x="380" y="1890">Arcane::IApplication</text>
<text y="1930"><tspan x="268">+</tspan><tspan x="284">parallelSuperMng()</tspan></text>
<text y="1950"><tspan x="268">+</tspan><tspan x="284">sequentialParallelSuperMng()</tspan></text>
<text y="1970"><tspan x="268">+</tspan><tspan x="284">ioMng()</tspan></text>
<text y="1990"><tspan x="268">+</tspan><tspan x="284">configurationMng()</tspan></text>
<text y="2010"><tspan x="268">+</tspan><tspan x="284">dataFactory()</tspan></text>
<text y="2030"><tspan x="268">+</tspan><tspan x="284">dataFactoryMng()</tspan></text>
<text y="2050"><tspan x="268">+</tspan><tspan x="284">applicationInfo()</tspan></text>
<text y="2070"><tspan x="268">+</tspan><tspan x="284">applicationBuildInfo()</tspan></text>
<text y="2090"><tspan x="268">+</tspan><tspan x="284">dotnetRuntimeInitialisation</tspan></text>
<text x="284" y="2104">Info()</text>
<text y="2125"><tspan x="268">+</tspan><tspan x="284">acceleratorRuntimeInitialisation</tspan></text>
<text x="284" y="2139">Info()</text>
<text x="284" y="2160">et 21 de plus...</text>
</g>

<g id="n_parallelmngcontainerbase">
<rect class="l" x="525" y="1979" width="238" height="82"/>
<line class="sl" x1="525" y1="2003" x2="763" y2="2003"/><line class="sl" x1="525" y1="2023" x2="763" y2="2023"/>
<text class="c" x="644" y="1997">Arcane::ParallelMngContainerBase</text>
<text y="2037"><tspan x="531">-</tspan><tspan x="540">ARCCORE_DEFINE_REFERENCE</tspan></text>
<text x="545" y="2052">_COUNTED_INCLASS_METHODS()</text>
</g>

<g id="n_sharedmemorythreadmng">
<rect class="l" x="788" y="1977" width="236" height="86"/>
<line class="sl" x1="788" y1="2001" x2="1024" y2="2001"/><line class="sl" x1="788" y1="2020" x2="1024" y2="2020"/>
<text class="c" x="906" y="1994">Arcane::SharedMemoryThreadMng</text>
<text y="2015"><tspan x="813">-</tspan><tspan x="846">m_mutex</tspan></text>
<text y="2034"><tspan x="812">+</tspan><tspan x="846">beginCriticalSection()</tspan></text>
<text y="2054"><tspan x="812">+</tspan><tspan x="846">endCriticalSection()</tspan></text>
</g>

<g id="n_isharedmemorymessagequeue">
<rect class="b" x="1052" y="1900" width="253" height="240"/>
<line class="s" x1="1052" y1="1937" x2="1305" y2="1937"/><line class="s" x1="1052" y1="1957" x2="1305" y2="1957"/>
<text x="1060" y="1917">Arcane::MessagePassing</text>
<text class="c" x="1178" y="1932">::ISharedMemoryMessageQueue</text>
<text y="1972"><tspan x="1058">+</tspan><tspan x="1074">~ISharedMemoryMessageQueue()</tspan></text>
<text y="1992"><tspan x="1058">+</tspan><tspan x="1074">init()</tspan></text>
<text y="2012"><tspan x="1058">+</tspan><tspan x="1074">waitAll()</tspan></text>
<text y="2032"><tspan x="1058">+</tspan><tspan x="1074">waitSome()</tspan></text>
<text y="2052"><tspan x="1058">+</tspan><tspan x="1074">setTraceMng()</tspan></text>
<text y="2072"><tspan x="1058">+</tspan><tspan x="1074">addReceive()</tspan></text>
<text y="2092"><tspan x="1058">+</tspan><tspan x="1074">addSend()</tspan></text>
<text y="2112"><tspan x="1058">+</tspan><tspan x="1074">probe()</tspan></text>
<text y="2132"><tspan x="1058">+</tspan><tspan x="1074">legacyProbe()</tspan></text>
</g>

<g id="n_mutex">
<rect class="b" x="1329" y="1957" width="111" height="126"/>
<line class="s" x1="1329" y1="1981" x2="1440" y2="1981"/><line class="s" x1="1329" y1="2000" x2="1440" y2="2000"/>
<text class="c" x="1385" y="1974">Arccore::Mutex</text>
<text y="2014"><tspan x="1340">+</tspan><tspan x="1363">Mutex()</tspan></text>
<text y="2034"><tspan x="1340">+</tspan><tspan x="1363">~Mutex()</tspan></text>
<text y="2054"><tspan x="1342">-</tspan><tspan x="1363">lock()</tspan></text>
<text y="2074"><tspan x="1342">-</tspan><tspan x="1363">unlock()</tspan></text>
</g>

<g id="n_ithreadbarrier">
<rect class="b" x="1466" y="1957" width="163" height="126"/>
<line class="s" x1="1466" y1="1981" x2="1629" y2="1981"/><line class="s" x1="1466" y1="2000" x2="1629" y2="2000"/>
<text class="c" x="1548" y="1974">Arccore::IThreadBarrier</text>
<text y="2014"><tspan x="1478">+</tspan><tspan x="1501">init()</tspan></text>
<text y="2034"><tspan x="1478">+</tspan><tspan x="1501">destroy()</tspan></text>
<text y="2054"><tspan x="1478">+</tspan><tspan x="1501">wait()</tspan></text>
<text y="2074"><tspan x="1478">#</tspan><tspan x="1501">~IThreadBarrier()</tspan></text>
</g>

<g id="n_sharedmemoryalldispatcher">
<rect class="l" x="1654" y="1979" width="208" height="82"/>
<line class="sl" x1="1654" y1="2017" x2="1862" y2="2017"/><line class="sl" x1="1654" y1="2037" x2="1862" y2="2037"/>
<text x="1662" y="1997">Arcane::MessagePassing</text>
<text class="c" x="1758" y="2012">::SharedMemoryAllDispatcher</text>
<text y="2052"><tspan x="1692">+</tspan><tspan x="1741">resize()</tspan></text>
</g>

<g id="n_iparallelmngcontainerfactory">
<rect class="b" x="1886" y="1969" width="240" height="101"/>
<line class="s" x1="1886" y1="2007" x2="2126" y2="2007"/><line class="s" x1="1886" y1="2027" x2="2126" y2="2027"/>
<text x="1894" y="1988">Arcane::IParallelMngContainer</text>
<text class="c" x="2006" y="2002">Factory</text>
<text y="2042"><tspan x="1892">+</tspan><tspan x="1910">~IParallelMngContainerFactory()</tspan></text>
<text y="2062"><tspan x="1892">+</tspan><tspan x="1910">_createParallelMngBuilder()</tspan></text>
</g>

<g id="n_communicator">
<rect class="b" x="2371" y="1860" width="190" height="320"/>
<line class="s" x1="2371" y1="1897" x2="2561" y2="1897"/><line class="s" x1="2371" y1="1937" x2="2561" y2="1937"/>
<text x="2382" y="1877">Arccore::MessagePassing</text>
<text class="c" x="2466" y="1892">::Communicator</text>
<text y="1912"><tspan x="2380">-</tspan><tspan x="2394">m_type</tspan></text>
<text y="1932"><tspan x="2380">-</tspan><tspan x="2394">null_communicator_type</tspan></text>
<text y="1951"><tspan x="2378">+</tspan><tspan x="2394">Communicator()</tspan></text>
<text y="1971"><tspan x="2378">+</tspan><tspan x="2394">Communicator()</tspan></text>
<text y="1991"><tspan x="2378">+</tspan><tspan x="2394">Communicator()</tspan></text>
<text y="2011"><tspan x="2378">+</tspan><tspan x="2394">Communicator()</tspan></text>
<text y="2031"><tspan x="2378">+</tspan><tspan x="2394">Communicator()</tspan></text>
<text y="2051"><tspan x="2378">+</tspan><tspan x="2394">Communicator()</tspan></text>
<text y="2071"><tspan x="2378">+</tspan><tspan x="2394">operator const T *()</tspan></text>
<text y="2091"><tspan x="2378">+</tspan><tspan x="2394">operator T*()</tspan></text>
<text y="2111"><tspan x="2378">+</tspan><tspan x="2394">operator int()</tspan></text>
<text y="2131"><tspan x="2378">+</tspan><tspan x="2394">operator long()</tspan></text>
<text x="2394" y="2151">et 6 de plus...</text>
<text y="2171"><tspan x="2378">+</tspan><tspan x="2394">setNullCommunicator()</tspan></text>
</g>

<g id="n_iparallelsupermng">
<rect class="b" x="619" y="2257" width="184" height="425"/>
<line class="s" x1="619" y1="2281" x2="803" y2="2281"/><line class="s" x1="619" y1="2301" x2="803" y2="2301"/>
<text class="c" x="711" y="2275">Arcane::IParallelSuperMng</text>
<text y="2315"><tspan x="626">+</tspan><tspan x="643">~IParallelSuperMng()</tspan></text>
<text y="2335"><tspan x="626">+</tspan><tspan x="643">build()</tspan></text>
<text y="2355"><tspan x="626">+</tspan><tspan x="643">initialize()</tspan></text>
<text y="2375"><tspan x="626">+</tspan><tspan x="643">application()</tspan></text>
<text y="2395"><tspan x="626">+</tspan><tspan x="643">threadMng()</tspan></text>
<text y="2415"><tspan x="626">+</tspan><tspan x="643">isParallel()</tspan></text>
<text y="2435"><tspan x="626">+</tspan><tspan x="643">commRank()</tspan></text>
<text y="2455"><tspan x="626">+</tspan><tspan x="643">commSize()</tspan></text>
<text y="2475"><tspan x="626">+</tspan><tspan x="643">traceRank()</tspan></text>
<text y="2495"><tspan x="626">+</tspan><tspan x="643">getMPICommunicator()</tspan></text>
<text x="643" y="2515">et 7 de plus...</text>
<text y="2535"><tspan x="626">+</tspan><tspan x="643">broadcast()</tspan></text>
<text y="2555"><tspan x="626">+</tspan><tspan x="643">broadcast()</tspan></text>
<text y="2575"><tspan x="626">+</tspan><tspan x="643">broadcast()</tspan></text>
<text y="2595"><tspan x="626">+</tspan><tspan x="643">broadcast()</tspan></text>
<text y="2615"><tspan x="627">*</tspan><tspan x="643">broadcast()</tspan></text>
<text y="2635"><tspan x="627">*</tspan><tspan x="643">broadcast()</tspan></text>
<text y="2655"><tspan x="627">*</tspan><tspan x="643">broadcast()</tspan></text>
<text y="2675"><tspan x="627">*</tspan><tspan x="643">broadcast()</tspan></text>
</g>

<g id="n_istat">
<rect class="b" x="1148" y="2357" width="153" height="226"/>
<line class="s" x1="1148" y1="2381" x2="1301" y2="2381"/><line class="s" x1="1148" y1="2401" x2="1301" y2="2401"/>
<text class="c" x="1225" y="2375">Arcane::Parallel::IStat</text>
<text y="2415"><tspan x="1160">+</tspan><tspan x="1181">~IStat()</tspan></text>
<text y="2435"><tspan x="1160">+</tspan><tspan x="1181">add()</tspan></text>
<text y="2455"><tspan x="1160">+</tspan><tspan x="1181">print()</tspan></text>
<text y="2475"><tspan x="1160">+</tspan><tspan x="1181">printCollective()</tspan></text>
<text y="2495"><tspan x="1160">+</tspan><tspan x="1181">enable()</tspan></text>
<text y="2515"><tspan x="1160">+</tspan><tspan x="1181">dumpJSON()</tspan></text>
<text y="2535"><tspan x="1160">+</tspan><tspan x="1181">saveValues()</tspan></text>
<text y="2555"><tspan x="1160">+</tspan><tspan x="1181">mergeValues()</tspan></text>
<text y="2575"><tspan x="1160">+</tspan><tspan x="1181">toArccoreStat()</tspan></text>
</g>

<g id="n_sharedmemoryparallelmngcontainer">
<rect class="b" x="1327" y="2393" width="276" height="154"/>
<line class="s" x1="1327" y1="2430" x2="1603" y2="2430"/><line class="s" x1="1327" y1="2449" x2="1603" y2="2449"/>
<text x="1335" y="2409">Arcane::MessagePassing</text>
<text class="c" x="1465" y="2424">::SharedMemoryParallelMngContainer</text>
<text y="2444"><tspan x="1333">+</tspan><tspan x="1349">m_nb_local_rank</tspan></text>
<text y="2464"><tspan x="1333">+</tspan><tspan x="1349">SharedMemoryParallelMngContainer()</tspan></text>
<text y="2484"><tspan x="1333">+</tspan><tspan x="1349">~SharedMemoryParallelMng</tspan></text>
<text x="1349" y="2499">Container()</text>
<text y="2519"><tspan x="1333">+</tspan><tspan x="1349">build()</tspan></text>
<text y="2538"><tspan x="1333">+</tspan><tspan x="1349">_createParallelMng()</tspan></text>
</g>

<g id="n_sharedmemoryparallelsupermng">
<rect class="m" x="1347" y="2745" width="235" height="344"/>
<line class="s" x1="1347" y1="2783" x2="1582" y2="2783"/><line class="s" x1="1347" y1="2822" x2="1582" y2="2822"/>
<text x="1354" y="2762">Arcane::MessagePassing</text>
<text class="c" x="1464" y="2777">::SharedMemoryParallelSuperMng</text>
<text y="2797"><tspan x="1357">+</tspan><tspan x="1376">m_is_parallel</tspan></text>
<text y="2817"><tspan x="1357">+</tspan><tspan x="1376">m_has_mpi_init</tspan></text>
<text y="2837"><tspan x="1357">+</tspan><tspan x="1376">SharedMemoryParallelSuper</tspan></text>
<text x="1376" y="2851">Mng()</text>
<text y="2872"><tspan x="1357">+</tspan><tspan x="1376">SharedMemoryParallelSuper</tspan></text>
<text x="1376" y="2886">Mng()</text>
<text y="2906"><tspan x="1357">+</tspan><tspan x="1376">~SharedMemoryParallelSuper</tspan></text>
<text x="1376" y="2920">Mng()</text>
<text y="2940"><tspan x="1357">+</tspan><tspan x="1376">initialize()</tspan></text>
<text y="2960"><tspan x="1357">+</tspan><tspan x="1376">build()</tspan></text>
<text y="2980"><tspan x="1357">+</tspan><tspan x="1376">application()</tspan></text>
<text y="3000"><tspan x="1357">+</tspan><tspan x="1376">threadMng()</tspan></text>
<text y="3020"><tspan x="1357">+</tspan><tspan x="1376">isParallel()</tspan></text>
<text y="3040"><tspan x="1357">+</tspan><tspan x="1376">commRank()</tspan></text>
<text y="3060"><tspan x="1357">+</tspan><tspan x="1376">commSize()</tspan></text>
<text x="1376" y="3080">et 13 de plus...</text>
</g>
</svg>
